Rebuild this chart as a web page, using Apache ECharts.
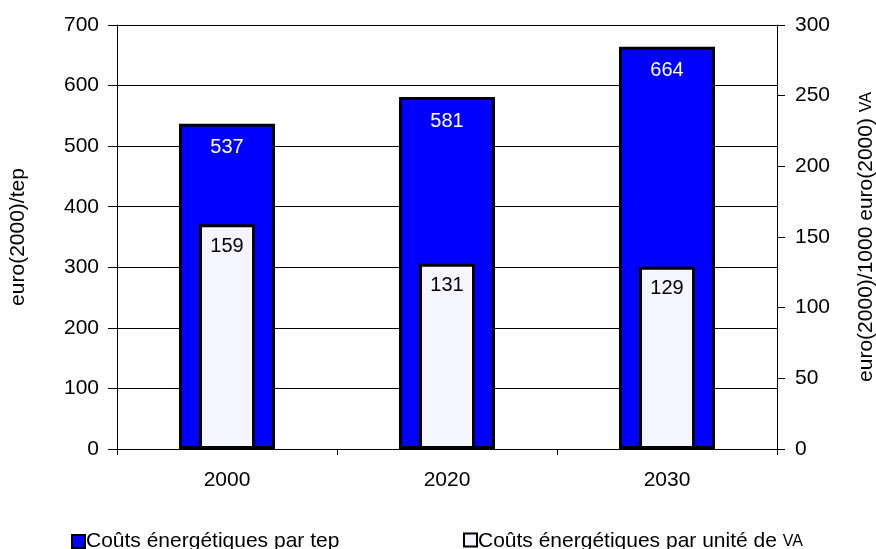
<!DOCTYPE html>
<html>
<head>
<meta charset="utf-8">
<script src="https://cdn.jsdelivr.net/npm/echarts@6/dist/echarts.min.js"></script>
<style>
  html, body { margin: 0; padding: 0; background: #fff; }
  #main { width: 876px; height: 549px; }
</style>
</head>
<body>
<div id="main"></div>
<script>
// categories and values
var years = ['2000', '2020', '2030'];
var coutParTep = [537, 581, 664];
var coutParVA = [159, 131, 129];
var leftTicks = [0, 700, 100];
var rightTicks = [0, 300, 50];

var FONT = '"Liberation Sans", Arial, sans-serif';
var FS = 21;

var chart = echarts.init(document.getElementById('main'));

// "VA" is set in small caps in the original
var smallCaps = {
  n: { fontSize: FS, lineHeight: 24, color: '#000', fontFamily: FONT, verticalAlign: 'bottom' },
  sc: { fontSize: 16, lineHeight: 24, color: '#000', fontFamily: FONT, verticalAlign: 'bottom', padding: [0, 0, 2, 0] }
};

var option = {
  animation: false,
  textStyle: { fontFamily: FONT },
  grid: { left: 117, right: 99, top: 25, bottom: 100, outerBoundsMode: 'none', containLabel: false },
  legend: [{
    data: [{ name: 'Coûts énergétiques par tep', icon: 'rect' }],
    left: 66, top: 526,
    itemWidth: 13, itemHeight: 13,
    itemStyle: { borderColor: '#000', borderWidth: 2 },
    textStyle: { fontSize: FS, color: '#000', fontFamily: FONT, padding: [0, 0, 0, -4] }
  }, {
    data: [{ name: 'Coûts énergétiques par unité de VA', icon: 'rect' }],
    left: 458, top: 526,
    itemWidth: 13, itemHeight: 13,
    itemStyle: { borderColor: '#000', borderWidth: 2 },
    formatter: function () { return '{n|Coûts énergétiques par unité de }{sc|VA}'; },
    textStyle: { fontSize: FS, color: '#000', fontFamily: FONT, padding: [0, 0, 0, -4], rich: smallCaps }
  }],
  xAxis: [{
    type: 'category',
    data: years,
    axisLine: { lineStyle: { color: '#000', width: 1 } },
    axisTick: { show: true, length: 6, lineStyle: { color: '#000' } },
    axisLabel: { fontSize: FS, color: '#000', margin: 21 }
  }, {
    type: 'category',
    data: years,
    show: false
  }],
  yAxis: [{
    type: 'value',
    min: leftTicks[0], max: leftTicks[1], interval: leftTicks[2],
    name: 'euro(2000)/tep',
    nameLocation: 'middle',
    nameRotate: 90,
    nameGap: 88,
    nameTextStyle: { fontSize: FS, color: '#000' },
    axisLine: { show: true, lineStyle: { color: '#000' } },
    axisTick: { show: true, length: 9, lineStyle: { color: '#000' } },
    axisLabel: { fontSize: FS, color: '#000', margin: 18 },
    splitLine: { show: true, lineStyle: { color: '#000', width: 1 } }
  }, {
    type: 'value',
    min: rightTicks[0], max: rightTicks[1], interval: rightTicks[2],
    position: 'right',
    name: '{n|euro(2000)/1000 euro(2000) }{sc|VA}',
    nameLocation: 'middle',
    nameRotate: 90,
    nameGap: 76,
    nameTextStyle: { fontSize: FS, color: '#000', rich: smallCaps },
    axisLine: { show: true, lineStyle: { color: '#000' } },
    axisTick: { show: true, length: 8, lineStyle: { color: '#000' } },
    axisLabel: { fontSize: FS, color: '#000', margin: 18 },
    splitLine: { show: false }
  }],
  series: [{
    name: 'Coûts énergétiques par tep',
    type: 'bar',
    xAxisIndex: 0,
    yAxisIndex: 0,
    data: coutParTep,
    barWidth: 96,
    itemStyle: { color: '#0000ff', borderColor: '#000', borderWidth: 3 },
    label: {
      show: true, position: 'insideTop', distance: 14,
      color: '#fff', fontSize: 20, fontFamily: FONT
    },
    z: 2
  }, {
    name: 'Coûts énergétiques par unité de VA',
    type: 'bar',
    xAxisIndex: 1,
    yAxisIndex: 1,
    data: coutParVA,
    barWidth: 56,
    itemStyle: { color: '#f5f5ff', borderColor: '#000', borderWidth: 3 },
    label: {
      show: true, position: 'insideTop', distance: 12,
      color: '#000', fontSize: 20, fontFamily: FONT
    },
    z: 3
  }]
};

chart.setOption(option);
</script>
</body>
</html>
